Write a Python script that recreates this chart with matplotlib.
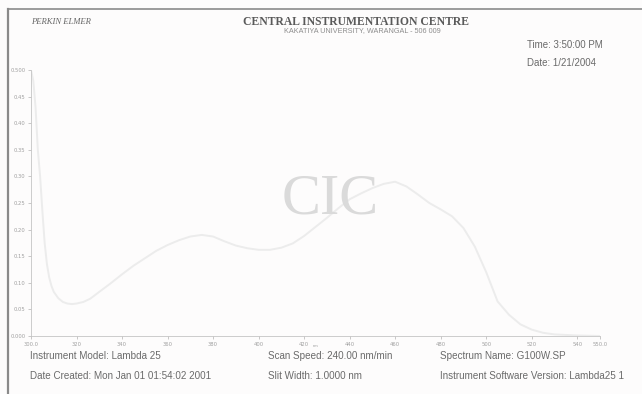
import numpy as np
import matplotlib
matplotlib.use("Agg")
import matplotlib.pyplot as plt

# wavelength (nm) and absorbance
wl = [300, 301, 302, 303, 304, 305, 306, 307, 308, 309, 310, 312, 314, 316, 318,
      320, 323, 326, 330, 335, 340, 345, 350, 355, 360, 365, 370, 375, 380, 385,
      390, 395, 400, 405, 410, 415, 420, 425, 430, 435, 440, 445, 450, 455, 460,
      465, 470, 475, 480, 485, 490, 495, 500, 505, 510, 515, 520, 525, 530, 540, 550]
absb = [0.500, 0.480, 0.430, 0.350, 0.300, 0.235, 0.175, 0.135, 0.110, 0.094, 0.083,
        0.071, 0.064, 0.061, 0.060, 0.061, 0.064, 0.070, 0.083, 0.099, 0.116, 0.132,
        0.146, 0.160, 0.171, 0.180, 0.187, 0.190, 0.187, 0.178, 0.170, 0.165, 0.162,
        0.162, 0.166, 0.174, 0.188, 0.205, 0.222, 0.240, 0.257, 0.268, 0.278, 0.286,
        0.290, 0.281, 0.266, 0.250, 0.238, 0.225, 0.203, 0.168, 0.120, 0.065, 0.040,
        0.022, 0.012, 0.006, 0.003, 0.001, 0.000]

xticks = [300, 320, 340, 360, 380, 400, 420, 440, 460, 480, 500, 520, 540, 550]
xlabels = ["300.0", "320", "340", "360", "380", "400", "420", "440", "460", "480",
           "500", "520", "540", "550.0"]
yticks = [0.0, 0.05, 0.10, 0.15, 0.20, 0.25, 0.30, 0.35, 0.40, 0.45, 0.50]
ylabels = ["0.000", "0.05", "0.10", "0.15", "0.20", "0.25", "0.30", "0.35", "0.40",
           "0.45", "0.500"]

W, H = 642, 394
fig = plt.figure(figsize=(W / 100, H / 100), dpi=100)
fig.patch.set_facecolor("#fdfcfc")

# page frame (top and left edge of the scanned sheet)
fig.add_artist(plt.Line2D([8 / W, 1], [1 - 9 / H, 1 - 9 / H], color="#8a8a8a", lw=1.2))
fig.add_artist(plt.Line2D([8 / W, 8 / W], [0, 1 - 9 / H], color="#8a8a8a", lw=1.6))

ax = fig.add_axes([31 / W, 58 / H, 569 / W, 266 / H])
ax.set_facecolor("none")
ax.plot(wl, absb, color="#ececec", lw=1.4)
ax.set_xlim(300, 550)
ax.set_ylim(0, 0.5)
for s in ["top", "right"]:
    ax.spines[s].set_visible(False)
for s in ["left", "bottom"]:
    ax.spines[s].set_color("#c4c4c4")
    ax.spines[s].set_linewidth(0.6)
ax.set_xticks(xticks)
ax.set_xticklabels(xlabels)
ax.set_yticks(yticks)
ax.set_yticklabels(ylabels)
ax.tick_params(labelsize=3.8, colors="#a0a0a0", length=2, width=0.4, pad=2)

# watermark
fig.text(330 / W, 1 - 199 / H, "CIC", family="Liberation Serif", fontsize=42,
         color="#dadada", ha="center", va="center")

# header
fig.text(31 / W, 1 - 22 / H, "PERKIN ELMER", family="Liberation Serif", style="italic",
         fontsize=6.2, color="#666666", va="center")
fig.text(356 / W, 1 - 22 / H, "CENTRAL INSTRUMENTATION CENTRE", family="Liberation Serif",
         weight="bold", fontsize=8.4, color="#5a5a5a", ha="center", va="center")
fig.text(362 / W, 1 - 31 / H, "KAKATIYA UNIVERSITY, WARANGAL - 506 009",
         family="Liberation Sans", fontsize=5.2, color="#8c8c8c", ha="center", va="center")
fig.text(527 / W, 1 - 45 / H, "Time: 3:50:00 PM", family="Liberation Sans",
         fontsize=7.0, color="#6a6a6a", va="center")
fig.text(527 / W, 1 - 63 / H, "Date: 1/21/2004", family="Liberation Sans",
         fontsize=7.0, color="#6a6a6a", va="center")

# axis unit
fig.text(316 / W, 1 - 346 / H, "nm", family="Liberation Sans", fontsize=3,
         color="#9a9a9a", ha="center", va="center")

# footer
footer = [
    (30, 356, "Instrument Model: Lambda 25"),
    (30, 376, "Date Created: Mon Jan 01 01:54:02 2001"),
    (268, 356, "Scan Speed: 240.00 nm/min"),
    (268, 376, "Slit Width: 1.0000 nm"),
    (440, 356, "Spectrum Name: G100W.SP"),
    (440, 376, "Instrument Software Version: Lambda25 1"),
]
for x, y, t in footer:
    fig.text(x / W, 1 - y / H, t, family="Liberation Sans", fontsize=7.1,
             color="#6a6a6a", va="center")

fig.savefig("out.png", dpi=100, facecolor=fig.get_facecolor())
